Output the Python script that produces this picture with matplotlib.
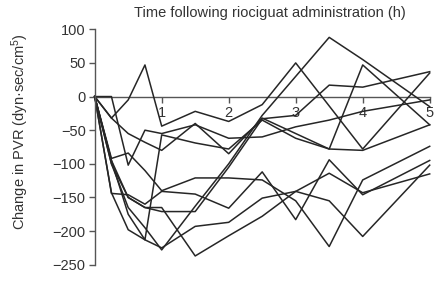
import numpy as np
import matplotlib
matplotlib.use("Agg")
import matplotlib.pyplot as plt

plt.rcParams["font.family"] = ["Liberation Sans", "DejaVu Sans"]
plt.rcParams["mathtext.default"] = "regular"

# hours after dosing
hours = [0, 0.25, 0.5, 0.75, 1, 1.5, 2, 2.5, 3, 3.5, 4, 5]

# change in PVR per patient
pt01 = [0, -32, -5, 47, -44, -22, -37, -12, 50, -14, -78, 35]
pt02 = [0, 0, -102, -50, -55, -42, -62, -60, -45, -35, -22, -5]
pt03 = [0, -32, -55, -68, -80, -40, -85, -32, -55, -78, 47, -42]
pt04 = [0, -95, -175, -213, -57, -69, -78, -35, -62, -78, -80, -42]
pt05 = [0, -100, -165, -195, -228, -163, -100, -28, 30, 88, 55, -15]
pt06 = [0, -95, -150, -165, -171, -171, -105, -33, -28, 17, 14, 37]
pt07 = [0, -92, -84, -110, -140, -121, -121, -124, -155, -223, -124, -74]
pt08 = [0, -144, -146, -160, -141, -145, -166, -112, -183, -94, -146, -95]
pt09 = [0, -100, -150, -165, -165, -237, -207, -178, -141, -114, -143, -115]
pt10 = [0, -143, -198, -213, -225, -193, -187, -151, -141, -155, -208, -102]

patients = [pt01, pt02, pt03, pt04, pt05, pt06, pt07, pt08, pt09, pt10]

x_ticks = [1, 2, 3, 4, 5]
y_ticks = [-250, -200, -150, -100, -50, 0, 50, 100]

W, H = 441, 281
fig = plt.figure(figsize=(W / 100, H / 100), dpi=100)
ax = fig.add_axes([94.7 / W, 1 - 264.7 / H, 335 / W, 235.4 / H])

for vals in patients:
    ax.plot(hours, vals, color="#262626", lw=1.1, clip_on=False)

ax.set_xlim(0, 5)
ax.set_ylim(-250, 100)

axis_col = "#555555"
for s in ("top", "right"):
    ax.spines[s].set_visible(False)
ax.spines["bottom"].set_position(("data", 0))
ax.spines["bottom"].set_color(axis_col)
ax.spines["left"].set_color(axis_col)
ax.spines["bottom"].set_linewidth(1.0)
ax.spines["left"].set_linewidth(1.0)
ax.spines["bottom"].set_zorder(0)

ax.set_xticks(x_ticks)
ax.set_xticklabels([str(t) for t in x_ticks])
ax.set_yticks(y_ticks)
ax.tick_params(axis="both", colors=axis_col, labelcolor="#333333",
               labelsize=10.5, length=4, width=1.0, direction="out")
ax.tick_params(axis="x", pad=3)
ax.tick_params(axis="y", pad=2.5)

fig.text(270 / W, 1 - 13 / H, "Time following riociguat administration (h)",
         ha="center", va="center", fontsize=10.5, color="#333333")
fig.text(20 / W, 1 - 132 / H, "Change in PVR (dyn\u00b7sec/cm$^{5}$)",
         ha="center", va="center", rotation=90, fontsize=10.5, color="#333333")

fig.savefig("out.png", dpi=100)
